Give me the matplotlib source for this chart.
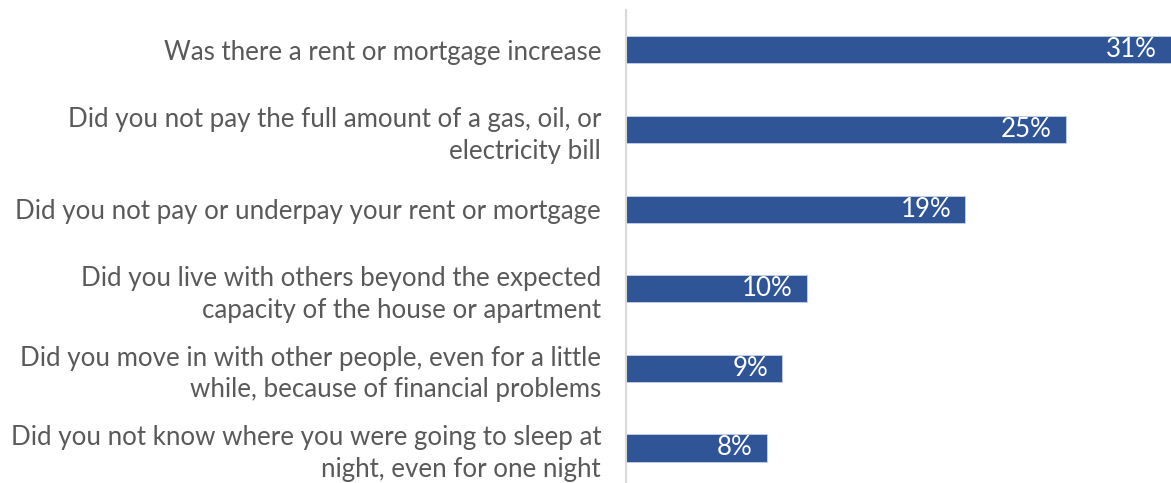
import numpy as np
import matplotlib.pyplot as plt

questions = [
    "Was there a rent or mortgage increase",
    "Did you not pay the full amount of a gas, oil, or\nelectricity bill",
    "Did you not pay or underpay your rent or mortgage",
    "Did you live with others beyond the expected\ncapacity of the house or apartment",
    "Did you move in with other people, even for a little\nwhile, because of financial problems",
    "Did you not know where you were going to sleep at\nnight, even for one night",
]
shares = [31.0, 25.0, 19.3, 10.3, 8.9, 8.0]
share_labels = ["31%", "25%", "19%", "10%", "9%", "8%"]

plt.rcParams['font.family'] = ['Lato', 'DejaVu Sans']

fig = plt.figure(figsize=(11.71, 4.83), dpi=100)
ax = fig.add_axes([0.5346, 0.0, 0.4654, 0.979])

y = np.arange(len(questions))
bars = ax.barh(y, shares, height=0.34, color='#2F5597', edgecolor='#C5D1E8', linewidth=0.6)

ax.set_xlim(0, 31.0)
ax.set_ylim(5.44, -0.5)
ax.set_yticks(y)
ax.set_yticklabels(questions, fontsize=18.6, color='#595959', linespacing=1.33)
ax.tick_params(axis='y', length=0, pad=18)
ax.set_xticks([])

for s in ['top', 'right', 'bottom']:
    ax.spines[s].set_visible(False)
ax.spines['left'].set_color('#D9D9D9')
ax.spines['left'].set_linewidth(1.5)

for b, lab in zip(bars, share_labels):
    ax.text(b.get_width() - 0.8, b.get_y() + b.get_height() / 2, lab,
            ha='right', va='center', color='white', fontsize=18.6)

fig.savefig('out.png', dpi=100)
